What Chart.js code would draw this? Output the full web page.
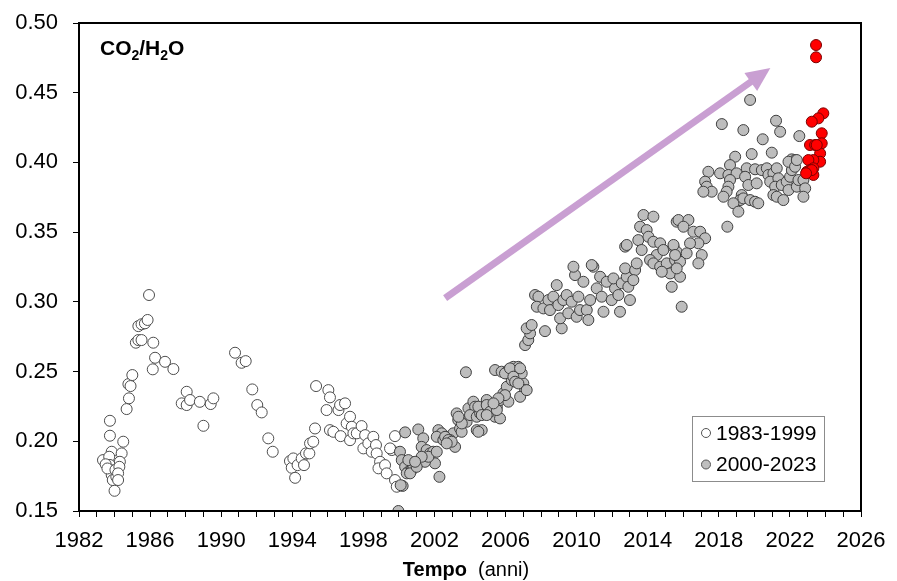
<!DOCTYPE html>
<html>
<head>
<meta charset="utf-8">
<title>CO2/H2O</title>
<script src="https://cdn.jsdelivr.net/npm/chart.js@4.4.1/dist/chart.umd.min.js"></script>
<style>
    html, body { margin: 0; padding: 0; background: #fff; }
    canvas { display: block; }
</style>
</head>
<body>
<canvas id="ratioChart" width="897" height="581"></canvas>
<script>
// anni e rapporti CO2/H2O
const oldYears = [1983.35, 1983.74, 1983.74, 1983.84, 1983.70, 1983.74, 1983.80, 1983.84, 1983.90, 1984.00,
    1983.50, 1983.60, 1984.10, 1984.05,
    1984.49, 1984.40, 1984.30, 1984.27, 1984.20, 1984.20, 1984.68, 1984.81, 1984.78, 1984.90,
    1985.00, 1985.20, 1985.34, 1985.52, 1985.34, 1985.52, 1985.71, 1985.86, 1985.94, 1986.18,
    1986.28, 1986.15, 1986.84, 1987.31, 1987.78, 1988.06, 1988.06, 1988.25, 1988.80, 1989.00,
    1989.41, 1989.56, 1990.78, 1991.15, 1991.38, 1991.75, 1992.03, 1992.28, 1992.65, 1992.90,
    1993.87, 1993.97, 1994.16, 1994.06, 1994.30, 1994.53, 1994.66, 1994.77, 1994.96, 1995.00,
    1995.18, 1995.28, 1995.34, 1996.03, 1996.12, 1995.93, 1996.12, 1996.31, 1996.72, 1996.60,
    1996.69, 1996.97, 1997.06, 1997.25, 1997.35, 1997.25, 1997.44, 1997.63, 1997.90, 1998.10,
    1998.00, 1998.28, 1998.56, 1998.47, 1998.71, 1998.75, 1998.94, 1998.85, 1999.22, 1999.31,
    1999.60, 1999.78, 1999.78, 1999.88, 1999.50];
const oldValues = [0.1865, 0.2147, 0.2040, 0.1925, 0.1889, 0.1830, 0.1793, 0.1758, 0.1722, 0.1645,
    0.1835, 0.1805, 0.1745, 0.1795,
    0.1997, 0.1913, 0.1853, 0.1817, 0.1770, 0.1722, 0.2231, 0.2308, 0.2410, 0.2396,
    0.2475, 0.2707, 0.2726, 0.2726, 0.2826, 0.2839, 0.2846, 0.2870, 0.3049, 0.2707,
    0.2599, 0.2516, 0.2570, 0.2518, 0.2272, 0.2260, 0.2355, 0.2296, 0.2283, 0.2111,
    0.2267, 0.2308, 0.2635, 0.2563, 0.2575, 0.2372, 0.2260, 0.2207, 0.2021, 0.1925,
    0.1858, 0.1810, 0.1738, 0.1877, 0.1829, 0.1877, 0.1829, 0.1913, 0.1913, 0.1985,
    0.1997, 0.2092, 0.2396, 0.2367, 0.2315, 0.2224, 0.2080, 0.2068, 0.2037, 0.2224,
    0.2260, 0.2272, 0.2128, 0.2176, 0.2104, 0.2008, 0.2057, 0.2057, 0.2109, 0.2044,
    0.1949, 0.1985, 0.2032, 0.1925, 0.1973, 0.1913, 0.1853, 0.1806, 0.1829, 0.1770,
    0.1937, 0.2037, 0.1722, 0.1674, 0.1949];

const newYears = [1999.97, 2000.21, 2000.10, 2000.35, 2000.06, 2000.16, 2000.35, 2000.53, 2000.44, 2000.72,
    2000.82, 2001.00, 2001.19, 2001.09, 2001.37, 2001.28, 2001.56, 2001.75, 2001.93, 2002.03,
    2001.47, 2001.66, 2002.28, 2002.22, 2002.41, 2002.13, 2002.50, 2002.69, 2003.25, 2003.34,
    2003.06, 2003.16, 2002.88, 2003.44, 2003.53, 2003.81, 2003.77, 2003.91, 2004.19, 2004.29,
    2004.00, 2004.38, 2004.57, 2004.75, 2004.94, 2005.03, 2004.38, 2004.66, 2005.32, 2005.41,
    2005.69, 2005.51, 2005.69, 2005.88, 2006.16, 2006.07, 2006.35, 2006.63, 2006.82, 2007.00,
    2007.10, 2006.82, 2005.41, 2005.78, 2006.16, 2006.44, 2006.72, 2006.91, 2007.10, 2007.28,
    2007.38, 2007.19, 2007.47, 2008.22, 2009.16, 2007.66, 2007.85, 2007.76, 2008.13, 2008.41,
    2008.50, 2008.88, 2008.69, 2008.97, 2009.25, 2009.07, 2009.44, 2009.53, 2009.72, 2010.00,
    2009.91, 2010.10, 2010.38, 2010.19, 2010.57, 2010.66, 2010.76, 2011.13, 2010.94, 2011.32,
    2011.41, 2011.51, 2011.69, 2011.97, 2012.16, 2012.07, 2012.35, 2012.44, 2012.54, 2012.82,
    2012.91, 2012.73, 2013.00, 2013.29, 2013.38, 2013.19, 2012.73, 2012.82, 2009.82, 2010.85,
    2013.76, 2014.32, 2013.57, 2013.94, 2013.47, 2013.66, 2014.04, 2014.32, 2014.70, 2014.51,
    2014.88, 2014.13, 2014.32, 2014.70, 2015.07, 2015.26, 2015.45, 2015.63, 2015.54, 2015.35,
    2015.82, 2015.63, 2015.91, 2014.79, 2015.73, 2016.29, 2016.01, 2016.57, 2016.95, 2017.23,
    2016.85, 2017.04, 2016.85, 2016.38, 2016.19, 2015.82, 2015.45, 2015.54, 2015.63, 2018.48,
    2019.76, 2018.17, 2019.38, 2020.47, 2021.22, 2021.45, 2022.53, 2018.92, 2019.85, 2020.98,
    2022.10, 2022.29, 2017.41, 2018.07, 2018.63, 2018.54, 2019.00, 2017.23, 2017.32, 2017.60,
    2017.13, 2018.63, 2018.54, 2018.44, 2018.26, 2019.57, 2020.04, 2019.48, 2019.66, 2020.13,
    2019.29, 2019.20, 2018.82, 2019.10, 2019.38, 2019.76, 2020.04, 2020.22, 2020.42, 2020.70,
    2020.79, 2021.07, 2021.26, 2020.89, 2021.35, 2021.17, 2021.54, 2021.82, 2022.01, 2022.11,
    2021.92, 2022.29, 2022.39, 2021.07, 2021.26, 2021.63, 2021.92, 2022.39, 2022.48, 2022.76,
    2022.86, 2022.76,
    2000.53, 2000.63, 2001.00, 2001.28, 2002.13, 2000.91, 2002.60, 2002.78, 2002.97, 2002.69,
    2003.54, 2003.35, 2004.47, 2004.94, 2005.13, 2005.51, 2004.47, 2004.66, 2004.94, 2005.97,
    2006.25, 2006.82, 2006.44, 2006.54, 2006.72, 2007.19, 2005.97, 2005.60, 2005.32];
const newValues = [0.1500, 0.1680, 0.1685, 0.2064, 0.1925, 0.1865, 0.1817, 0.1781, 0.1770, 0.1793,
    0.1817, 0.1842, 0.1853, 0.2085, 0.2021, 0.1960, 0.1937, 0.1913, 0.1925, 0.1842,
    0.1853, 0.1889, 0.1745, 0.2080, 0.2057, 0.2032, 0.2009, 0.2032, 0.2200, 0.2152,
    0.2057, 0.1960, 0.2009, 0.2092, 0.2068, 0.2140, 0.2495, 0.2236, 0.2284, 0.2248,
    0.2188, 0.2176, 0.2200, 0.2248, 0.2296, 0.2224, 0.2080, 0.2080, 0.2212, 0.2176,
    0.2164, 0.2248, 0.2296, 0.2344, 0.2284, 0.2391, 0.2439, 0.2451, 0.2487, 0.2415,
    0.2367, 0.2319, 0.2511, 0.2499, 0.2511, 0.2534, 0.2534, 0.2487, 0.2690, 0.2726,
    0.2774, 0.2810, 0.2834, 0.2790, 0.2810, 0.3049, 0.3037, 0.2965, 0.2953, 0.3013,
    0.2941, 0.3120, 0.3037, 0.2977, 0.3013, 0.2882, 0.3049, 0.2918, 0.3001, 0.2893,
    0.3192, 0.3037, 0.3144, 0.2941, 0.2941, 0.2870, 0.3013, 0.3097, 0.3252, 0.3180,
    0.3037, 0.2929, 0.3144, 0.3013, 0.3097, 0.3168, 0.3049, 0.2929, 0.3133, 0.3180,
    0.3108, 0.3240, 0.3013, 0.3228, 0.3276, 0.3156, 0.3396, 0.3408, 0.3252, 0.3264,
    0.3623, 0.3611, 0.3539, 0.3515, 0.3443, 0.3372, 0.3467, 0.3431, 0.3420, 0.3336,
    0.3372, 0.3300, 0.3276, 0.3252, 0.3276, 0.3204, 0.3396, 0.3359, 0.3300, 0.3108,
    0.3180, 0.3575, 0.2965, 0.3216, 0.3587, 0.3587, 0.3539, 0.3503, 0.3503, 0.3456,
    0.3420, 0.3336, 0.3276, 0.3420, 0.3348, 0.3288, 0.3408, 0.3336, 0.3240, 0.3539,
    0.4448, 0.4275, 0.4232, 0.4166, 0.4299, 0.4220, 0.4189, 0.4041, 0.4060, 0.4070,
    0.4022, 0.4017, 0.3933, 0.3922, 0.3981, 0.3910, 0.3922, 0.3862, 0.3826, 0.3790,
    0.3790, 0.3874, 0.3826, 0.3790, 0.3754, 0.3958, 0.3951, 0.3897, 0.3838, 0.3850,
    0.3766, 0.3730, 0.3707, 0.3647, 0.3742, 0.3730, 0.3718, 0.3707, 0.3945, 0.3958,
    0.3910, 0.3922, 0.3958, 0.3862, 0.3886, 0.3826, 0.3838, 0.3862, 0.3897, 0.3945,
    0.4005, 0.3969, 0.4017, 0.3766, 0.3754, 0.3730, 0.3802, 0.3826, 0.3874, 0.3874,
    0.3814, 0.3754,
    0.1865, 0.1770, 0.1817, 0.1889, 0.1925, 0.1853, 0.2032, 0.2009, 0.1997, 0.1985,
    0.2128, 0.2176, 0.2248, 0.2260, 0.2212, 0.2224, 0.2068, 0.2188, 0.2188, 0.2487,
    0.2523, 0.2523, 0.2463, 0.2427, 0.2415, 0.2367, 0.2331, 0.2308, 0.2272];

// ultimi dati (2023) in rosso
const lastYears = [2023.47, 2023.47, 2023.88, 2023.60, 2023.23, 2023.13, 2023.42, 2023.79, 2023.79, 2023.70,
    2023.70, 2023.32, 2023.04, 2023.32, 2022.95, 2023.32, 2023.13, 2023.51, 2023.23, 2022.91];
const lastValues = [0.4842, 0.4754, 0.4352, 0.4316, 0.4292, 0.4125, 0.4125, 0.4209, 0.4137, 0.4065,
    0.4005, 0.4017, 0.4017, 0.3958, 0.3933, 0.3910, 0.3945, 0.4125, 0.3945, 0.3922];

const xLabelYears = [1982, 1986, 1990, 1994, 1998, 2002, 2006, 2010, 2014, 2018, 2022, 2026];
const legendLabels = ['1983-1999', '2000-2023'];

const arrowFrom = [2002.6, 0.3027];
const arrowTo = [2020.9, 0.4677];

const FONT = "'Liberation Sans', Arial, sans-serif";
Chart.defaults.font.family = FONT;

function toPoints(xs, ys) {
    let out = new Array();
    for (let i = 0; i < xs.length; i++) {
        out.push({ x: xs[i], y: ys[i] });
    }
    return out;
}

const decor = {
    id: 'decor',
    beforeDatasetsDraw(chart) {
        // freccia viola
        const ctx = chart.ctx, sx = chart.scales.x, sy = chart.scales.y;
        const x1 = sx.getPixelForValue(arrowFrom[0]), y1 = sy.getPixelForValue(arrowFrom[1]);
        const x2 = sx.getPixelForValue(arrowTo[0]), y2 = sy.getPixelForValue(arrowTo[1]);
        const a = Math.atan2(y2 - y1, x2 - x1);
        const headLen = 24, headW = 11;
        const bx = x2 - headLen * Math.cos(a), by = y2 - headLen * Math.sin(a);
        ctx.save();
        ctx.strokeStyle = '#c99fd2';
        ctx.fillStyle = '#c99fd2';
        ctx.lineWidth = 7;
        ctx.beginPath();
        ctx.moveTo(x1, y1);
        ctx.lineTo(bx + 2 * Math.cos(a), by + 2 * Math.sin(a));
        ctx.stroke();
        ctx.beginPath();
        ctx.moveTo(x2, y2);
        ctx.lineTo(bx - headW * Math.sin(a), by + headW * Math.cos(a));
        ctx.lineTo(bx + headW * Math.sin(a), by - headW * Math.cos(a));
        ctx.closePath();
        ctx.fill();
        ctx.restore();
    },
    afterDraw(chart) {
        const ctx = chart.ctx, ca = chart.chartArea;
        ctx.save();
        // cornice
        ctx.strokeStyle = '#000';
        ctx.lineWidth = 2;
        ctx.strokeRect(ca.left, ca.top, ca.right - ca.left, ca.bottom - ca.top);

        // titolo CO2/H2O con pedici
        ctx.fillStyle = '#000';
        ctx.textBaseline = 'alphabetic';
        ctx.textAlign = 'left';
        let x = ca.left + 21, y = ca.top + 32;
        const parts = [['CO', false], ['2', true], ['/H', false], ['2', true], ['O', false]];
        parts.forEach(function (p) {
            ctx.font = p[1] ? 'bold 14px ' + FONT : 'bold 21px ' + FONT;
            ctx.fillText(p[0], x, p[1] ? y + 5 : y);
            x += ctx.measureText(p[0]).width;
        });

        // legenda
        const lx = ca.right - 169, ly = ca.bottom - 95;
        ctx.fillStyle = '#fff';
        ctx.fillRect(lx, ly, 132, 65);
        ctx.strokeStyle = '#8c8c8c';
        ctx.lineWidth = 1;
        ctx.strokeRect(lx + 0.5, ly + 0.5, 132, 65);
        const fills = ['#ffffff', '#bfbfbf'];
        ctx.font = '21px ' + FONT;
        ctx.textBaseline = 'middle';
        for (let i = 0; i < legendLabels.length; i++) {
            const cy = ly + 17 + i * 31.5;
            ctx.beginPath();
            ctx.arc(lx + 14, cy, 4.5, 0, Math.PI * 2);
            ctx.fillStyle = fills[i];
            ctx.fill();
            ctx.strokeStyle = '#555';
            ctx.stroke();
            ctx.fillStyle = '#000';
            ctx.fillText(legendLabels[i], lx + 24, cy + 1);
        }

        // titolo asse x
        const mid = (ca.left + ca.right) / 2;
        ctx.textBaseline = 'middle';
        ctx.font = 'bold 20px ' + FONT;
        const w1 = ctx.measureText('Tempo').width;
        ctx.font = '20px ' + FONT;
        const w2 = ctx.measureText('  (anni)').width;
        let tx = mid - (w1 + w2) / 2 - 4;
        ctx.font = 'bold 20px ' + FONT;
        ctx.fillText('Tempo', tx, 570);
        ctx.font = '20px ' + FONT;
        ctx.fillText('  (anni)', tx + w1, 570);
        ctx.restore();
    }
};

const ratioChart = new Chart(document.getElementById('ratioChart'), {
    type: 'scatter',
    data: {
        datasets: [{
            label: legendLabels[0],
            data: toPoints(oldYears, oldValues),
            pointRadius: 5.5,
            pointBackgroundColor: '#ffffff',
            pointBorderColor: '#4d4d4d',
            pointBorderWidth: 1,
            order: 3
        }, {
            label: legendLabels[1],
            data: toPoints(newYears, newValues),
            pointRadius: 5.5,
            pointBackgroundColor: '#bdbdbd',
            pointBorderColor: '#3f3f3f',
            pointBorderWidth: 1,
            order: 2
        }, {
            label: '2023',
            data: toPoints(lastYears, lastValues),
            pointRadius: 5.5,
            pointBackgroundColor: '#ff0000',
            pointBorderColor: '#7a0000',
            pointBorderWidth: 1,
            order: 1
        }]
    },
    options: {
        responsive: false,
        animation: false,
        layout: { padding: { left: 0, right: 36, top: 23, bottom: 0 } },
        plugins: {
            legend: { display: false },
            tooltip: { enabled: false }
        },
        scales: {
            x: {
                type: 'linear',
                min: 1982,
                max: 2026,
                ticks: {
                    stepSize: 1,
                    autoSkip: false,
                    maxRotation: 0,
                    padding: 11,
                    color: '#000',
                    font: { size: 22 },
                    callback: function (v) {
                        return xLabelYears.includes(Math.round(v)) ? String(Math.round(v)) : '';
                    }
                },
                grid: { drawOnChartArea: false, tickLength: 6, color: '#000' },
                border: { color: '#000', width: 2 },
                afterFit: function (s) { s.height = 70; }
            },
            y: {
                min: 0.15,
                max: 0.50,
                ticks: {
                    stepSize: 0.05,
                    padding: 15,
                    color: '#000',
                    font: { size: 22 },
                    callback: function (v) { return v.toFixed(2); }
                },
                grid: { drawOnChartArea: false, tickLength: 6, color: '#000' },
                border: { color: '#000', width: 2 },
                afterFit: function (s) {
                    s.width = 79;
                    s.paddingTop = 0;
                    s.paddingBottom = 0;
                }
            }
        }
    },
    plugins: [decor]
});
</script>
</body>
</html>
